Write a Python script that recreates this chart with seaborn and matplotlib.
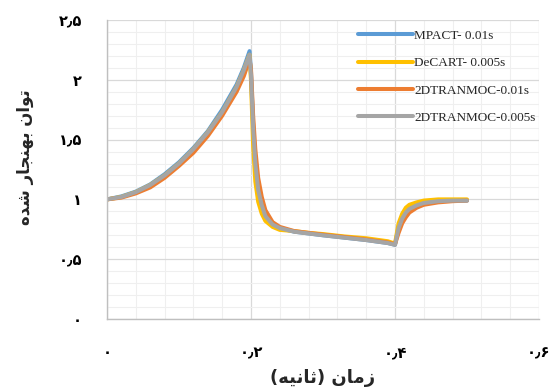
import matplotlib
matplotlib.use("Agg")
import matplotlib.pyplot as plt
from matplotlib.ticker import MultipleLocator, FixedLocator, FixedFormatter
from matplotlib.lines import Line2D
import pandas as pd
import seaborn as sns

# time points (s)
time = [0.0, 0.02, 0.04, 0.06, 0.08, 0.10, 0.12, 0.14, 0.16, 0.18, 0.19, 0.198,
        0.200, 0.203, 0.206, 0.21, 0.215, 0.22, 0.23, 0.24, 0.26, 0.28, 0.30,
        0.33, 0.36, 0.39, 0.40, 0.405, 0.41, 0.415, 0.42, 0.43, 0.44, 0.46, 0.48, 0.50]

mpact = [1.00, 1.025, 1.065, 1.125, 1.21, 1.31, 1.43, 1.57, 1.75, 1.96, 2.10, 2.24,
         2.07, 1.62, 1.30, 1.07, 0.94, 0.86, 0.79, 0.76, 0.73, 0.715, 0.70,
         0.68, 0.66, 0.635, 0.62, 0.77, 0.85, 0.90, 0.93, 0.955, 0.97, 0.985, 0.99, 0.99]
decart = [1.00, 1.02, 1.06, 1.12, 1.20, 1.30, 1.42, 1.56, 1.73, 1.94, 2.08, 2.21,
          1.99, 1.45, 1.15, 0.98, 0.88, 0.82, 0.77, 0.745, 0.735, 0.72, 0.71,
          0.69, 0.675, 0.65, 0.63, 0.80, 0.88, 0.93, 0.955, 0.975, 0.99, 1.00, 1.00, 1.00]
tranmoc_01 = [1.00, 1.015, 1.05, 1.10, 1.18, 1.28, 1.39, 1.53, 1.70, 1.90, 2.03, 2.17,
              2.09, 1.70, 1.42, 1.18, 1.02, 0.91, 0.81, 0.77, 0.735, 0.72, 0.705,
              0.685, 0.665, 0.64, 0.625, 0.72, 0.80, 0.85, 0.89, 0.93, 0.955, 0.975, 0.985, 0.99]
tranmoc_005 = [1.00, 1.02, 1.06, 1.12, 1.20, 1.30, 1.42, 1.56, 1.73, 1.94, 2.08, 2.21,
               2.04, 1.60, 1.30, 1.08, 0.95, 0.86, 0.79, 0.76, 0.73, 0.715, 0.70,
               0.68, 0.66, 0.635, 0.62, 0.76, 0.84, 0.89, 0.92, 0.95, 0.97, 0.985, 0.99, 0.99]

series_names = ["MPACT- 0.01s", "DeCART- 0.005s", "2DTRANMOC-0.01s", "2DTRANMOC-0.005s"]
series_values = [mpact, decart, tranmoc_01, tranmoc_005]
colors = ["#5B9BD5", "#FFC000", "#ED7D31", "#A5A5A5"]

x_ticks = [0, 0.2, 0.4, 0.6]
x_tick_labels = ["۰", "۰٫۲", "۰٫۴", "۰٫۶"]
y_ticks = [0, 0.5, 1, 1.5, 2, 2.5]
y_tick_labels = ["۰", "۰٫۵", "۱", "۱٫۵", "۲", "۲٫۵"]

x_label = "زمان (ثانیه)"
y_label = "توان بهنجار شده"

# matplotlib has no Arabic shaping: pick contextual forms and lay out right-to-left
FORMS = {  # isolated, final, initial, medial
    "ا": ("\uFE8D", "\uFE8E", None, None),
    "ب": ("\uFE8F", "\uFE90", "\uFE91", "\uFE92"),
    "ت": ("\uFE95", "\uFE96", "\uFE97", "\uFE98"),
    "ث": ("\uFE99", "\uFE9A", "\uFE9B", "\uFE9C"),
    "ج": ("\uFE9D", "\uFE9E", "\uFE9F", "\uFEA0"),
    "د": ("\uFEA9", "\uFEAA", None, None),
    "ر": ("\uFEAD", "\uFEAE", None, None),
    "ز": ("\uFEAF", "\uFEB0", None, None),
    "ش": ("\uFEB5", "\uFEB6", "\uFEB7", "\uFEB8"),
    "م": ("\uFEE1", "\uFEE2", "\uFEE3", "\uFEE4"),
    "ن": ("\uFEE5", "\uFEE6", "\uFEE7", "\uFEE8"),
    "ه": ("\uFEE9", "\uFEEA", "\uFEEB", "\uFEEC"),
    "و": ("\uFEED", "\uFEEE", None, None),
    "ی": ("\uFBFC", "\uFBFD", "\uFBFE", "\uFBFF"),
}


def rtl(text):
    out = []
    for i, c in enumerate(text):
        if c not in FORMS:
            out.append(c)
            continue
        prev = text[i - 1] if i > 0 else None
        nxt = text[i + 1] if i + 1 < len(text) else None
        join_prev = prev in FORMS and FORMS[prev][2] is not None
        join_next = nxt in FORMS and FORMS[c][2] is not None
        iso, fin, ini, med = FORMS[c]
        if join_prev and join_next:
            out.append(med)
        elif join_prev:
            out.append(fin)
        elif join_next:
            out.append(ini)
        else:
            out.append(iso)
    return "".join(reversed(out)).translate(str.maketrans("()", ")("))


df = pd.concat([pd.DataFrame({"time": time, "power": v, "series": n})
                for n, v in zip(series_names, series_values)], ignore_index=True)

sns.set_style("white")
plt.rcParams["font.family"] = ["DejaVu Sans"]

fig = plt.figure(figsize=(5.5, 3.89), dpi=100)
ax = fig.add_axes([0.1945, 0.18, 0.7855, 0.7686])

sns.lineplot(data=df, x="time", y="power", hue="series", hue_order=series_names,
             palette=colors, linewidth=2.9, ax=ax, sort=False, legend=False)

ax.set_xlim(0, 0.6)
ax.set_ylim(0, 2.5)
ax.xaxis.set_major_locator(FixedLocator(x_ticks))
ax.xaxis.set_major_formatter(FixedFormatter(x_tick_labels))
ax.yaxis.set_major_locator(FixedLocator(y_ticks))
ax.yaxis.set_major_formatter(FixedFormatter(y_tick_labels))
ax.xaxis.set_minor_locator(MultipleLocator(0.04))
ax.yaxis.set_minor_locator(MultipleLocator(0.1))

ax.grid(which="major", color="#d9d9d9", linewidth=0.9)
ax.grid(which="minor", color="#efefef", linewidth=0.8)
ax.set_axisbelow(True)

for s in ["top", "right"]:
    ax.spines[s].set_visible(False)
for s in ["left", "bottom"]:
    ax.spines[s].set_color("#bfbfbf")
    ax.spines[s].set_linewidth(1.0)

ax.tick_params(axis="both", which="major", direction="out", length=5, width=1,
               color="#bfbfbf", labelsize=10.5, labelcolor="black")
ax.tick_params(axis="x", which="major", pad=14)
ax.tick_params(axis="y", which="major", pad=13)
ax.tick_params(which="minor", length=0)
for lab in ax.get_xticklabels() + ax.get_yticklabels():
    lab.set_fontweight("bold")

ax.set_xlabel(rtl(x_label), fontsize=13, fontweight="bold", labelpad=6)
ax.set_ylabel(rtl(y_label), fontsize=12, fontweight="bold")
ax.yaxis.set_label_coords(-0.17, 0.54)

handles = [Line2D([], [], color=c, linewidth=2.9) for c in colors]
ax.legend(handles, series_names, loc="upper left", bbox_to_anchor=(0.565, 0.99),
          frameon=False, borderpad=0, handlelength=4.2, handletextpad=0.1,
          labelspacing=1.15, prop={"family": "Liberation Serif", "size": 9.5})

fig.savefig("out.png", dpi=100)
